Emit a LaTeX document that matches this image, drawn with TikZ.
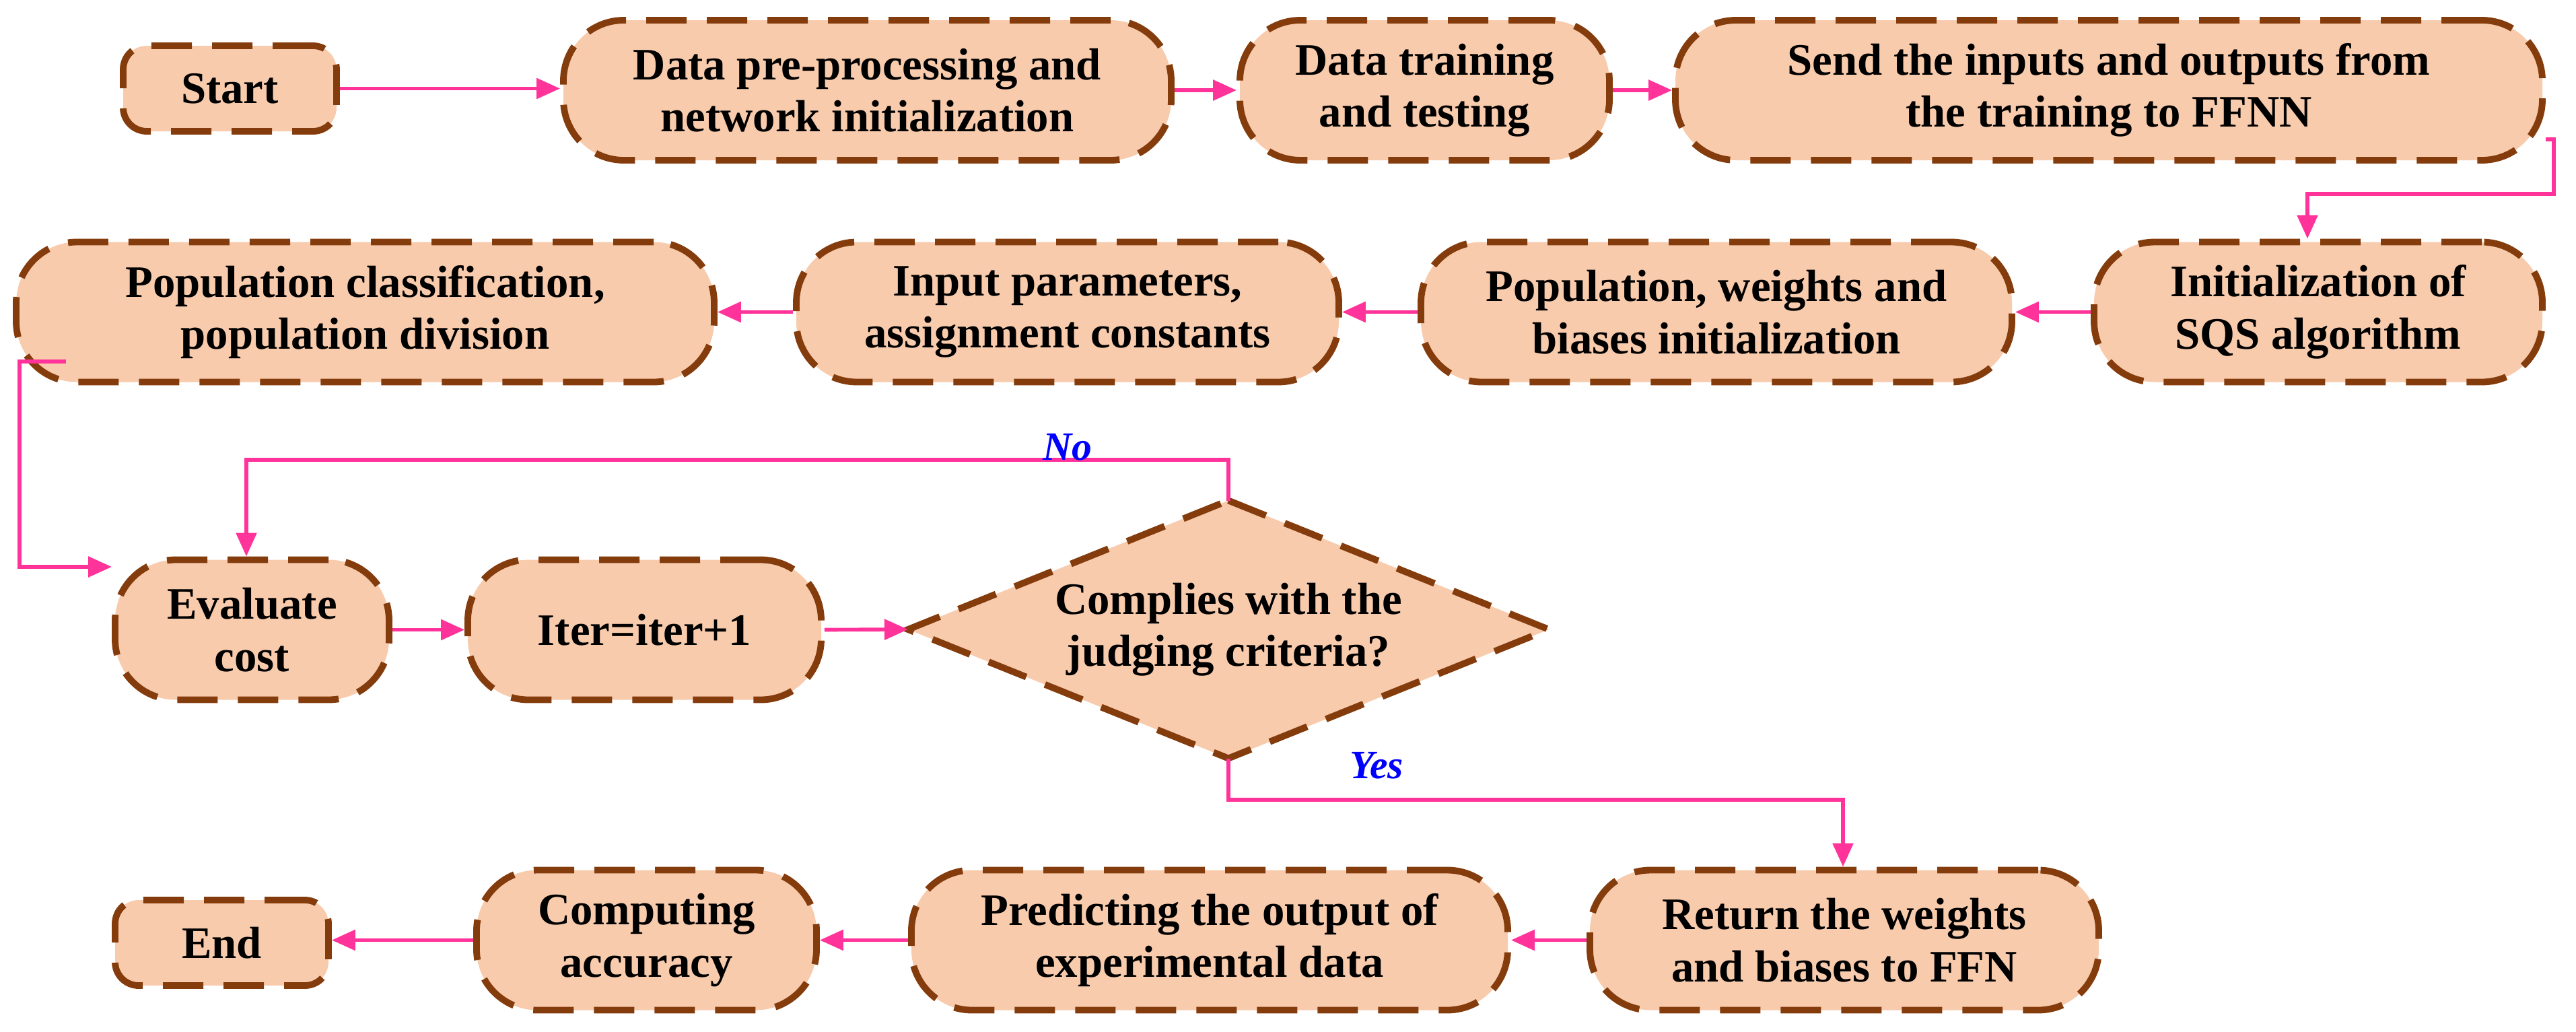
\documentclass[tikz,border=0pt]{standalone}
\usepackage{fontspec}
\setmainfont{Liberation Serif}
\usetikzlibrary{arrows.meta}
\definecolor{fillc}{HTML}{F8CBAD}
\definecolor{edgec}{HTML}{843C0C}
\definecolor{arrc}{HTML}{FF3399}
\tikzset{
 box/.style={draw=edgec,fill=fillc,line width=2.8pt,dash pattern=on 0.6cm off 0.3cm,rounded corners=0.9cm,align=center,inner sep=0pt,font=\fontsize{19}{22}\selectfont\bfseries,minimum height=2.08cm},
 sbox/.style={box,rounded corners=0.35cm,minimum height=1.27cm,minimum width=3.17cm},
 arr/.style={draw=arrc,line width=1.6pt,-{Triangle[length=0.35cm,width=0.3cm]}},
 lbl/.style={text=blue,font=\fontsize{17}{20}\selectfont\bfseries\itshape}
}
\begin{document}
\begin{tikzpicture}
\useasboundingbox (0,0) rectangle (38.27,-15.32);
\node[sbox] (start) at (3.415,-1.315) {Start};
\node[box,minimum width=9.03cm] (pre) at (12.885,-1.34) {Data pre-processing and\\network initialization};
\node[box,minimum width=5.49cm] (train) at (21.165,-1.34) {Data training\\and testing};
\node[box,minimum width=12.88cm] (send) at (31.33,-1.34) {Send the inputs and outputs from\\the training to FFNN};
\node[box,minimum width=6.66cm] (sqs) at (34.44,-4.635) {Initialization of\\SQS algorithm};
\node[box,minimum width=8.78cm] (popw) at (25.5,-4.635) {Population, weights and\\biases initialization};
\node[box,minimum width=8.06cm] (inp) at (15.86,-4.635) {Input parameters,\\assignment constants};
\node[box,minimum width=10.37cm] (popc) at (5.425,-4.635) {Population classification,\\population division};
\node[box,minimum width=4.07cm] (eval) at (3.745,-9.355) {Evaluate\\cost};
\node[box,minimum width=5.25cm] (iter) at (9.575,-9.355) {Iter=iter+1};
\coordinate (dT) at (18.25,-7.435);
\coordinate (dB) at (18.25,-11.265);
\coordinate (dL) at (13.49,-9.35);
\coordinate (dR) at (23.01,-9.35);
\draw[draw=edgec,fill=fillc,line width=2.8pt,dash pattern=on 0.6cm off 0.3cm] (dT)--(dR)--(dB)--(dL)--cycle;
\node[align=center,font=\fontsize{19}{22}\selectfont\bfseries] (dia) at (18.25,-9.35) {Complies with the\\judging criteria?};
\node[box,minimum width=7.56cm] (ret) at (27.4,-13.965) {Return the weights\\and biases to FFN};
\node[box,minimum width=8.86cm] (pred) at (17.97,-13.965) {Predicting the output of\\experimental data};
\node[box,minimum width=5.05cm] (comp) at (9.605,-13.965) {Computing\\accuracy};
\node[sbox] (end) at (3.295,-14.005) {End};
\draw[arr] (start.east) -- (start.east -| pre.west);
\draw[arr] (pre.east) -- (train.west);
\draw[arr] (train.east) -- (send.west);
\draw[arr] (send.east |- 0,-2.07) -- (37.94,-2.07) -- (37.94,-2.88) -- (34.28,-2.88) -- (sqs.north -| 34.28,0);
\draw[arr] (sqs.west) -- (popw.east);
\draw[arr] (popw.west) -- (inp.east);
\draw[arr] (inp.west) -- (popc.east);
\draw[arr] (0.98,-5.37) -- (0.29,-5.37) -- (0.29,-8.42) -- (eval.west |- 0,-8.42);
\draw[arr] (eval.east) -- (iter.west);
\draw[arr] (iter.east) -- (dL);
\draw[arr] (dT) -- (18.25,-6.83) -- (3.66,-6.83) -- (eval.north -| 3.66,0);
\node[lbl] (no) at (15.86,-6.64) {No};
\draw[arr] (dB) -- (18.25,-11.88) -- (27.38,-11.88) -- (ret.north -| 27.38,0);
\node[lbl] (yes) at (20.45,-11.37) {Yes};
\draw[arr] (ret.west) -- (pred.east);
\draw[arr] (pred.west) -- (comp.east);
\draw[arr] (comp.west) -- (comp.west -| end.east);
\end{tikzpicture}
\end{document}
